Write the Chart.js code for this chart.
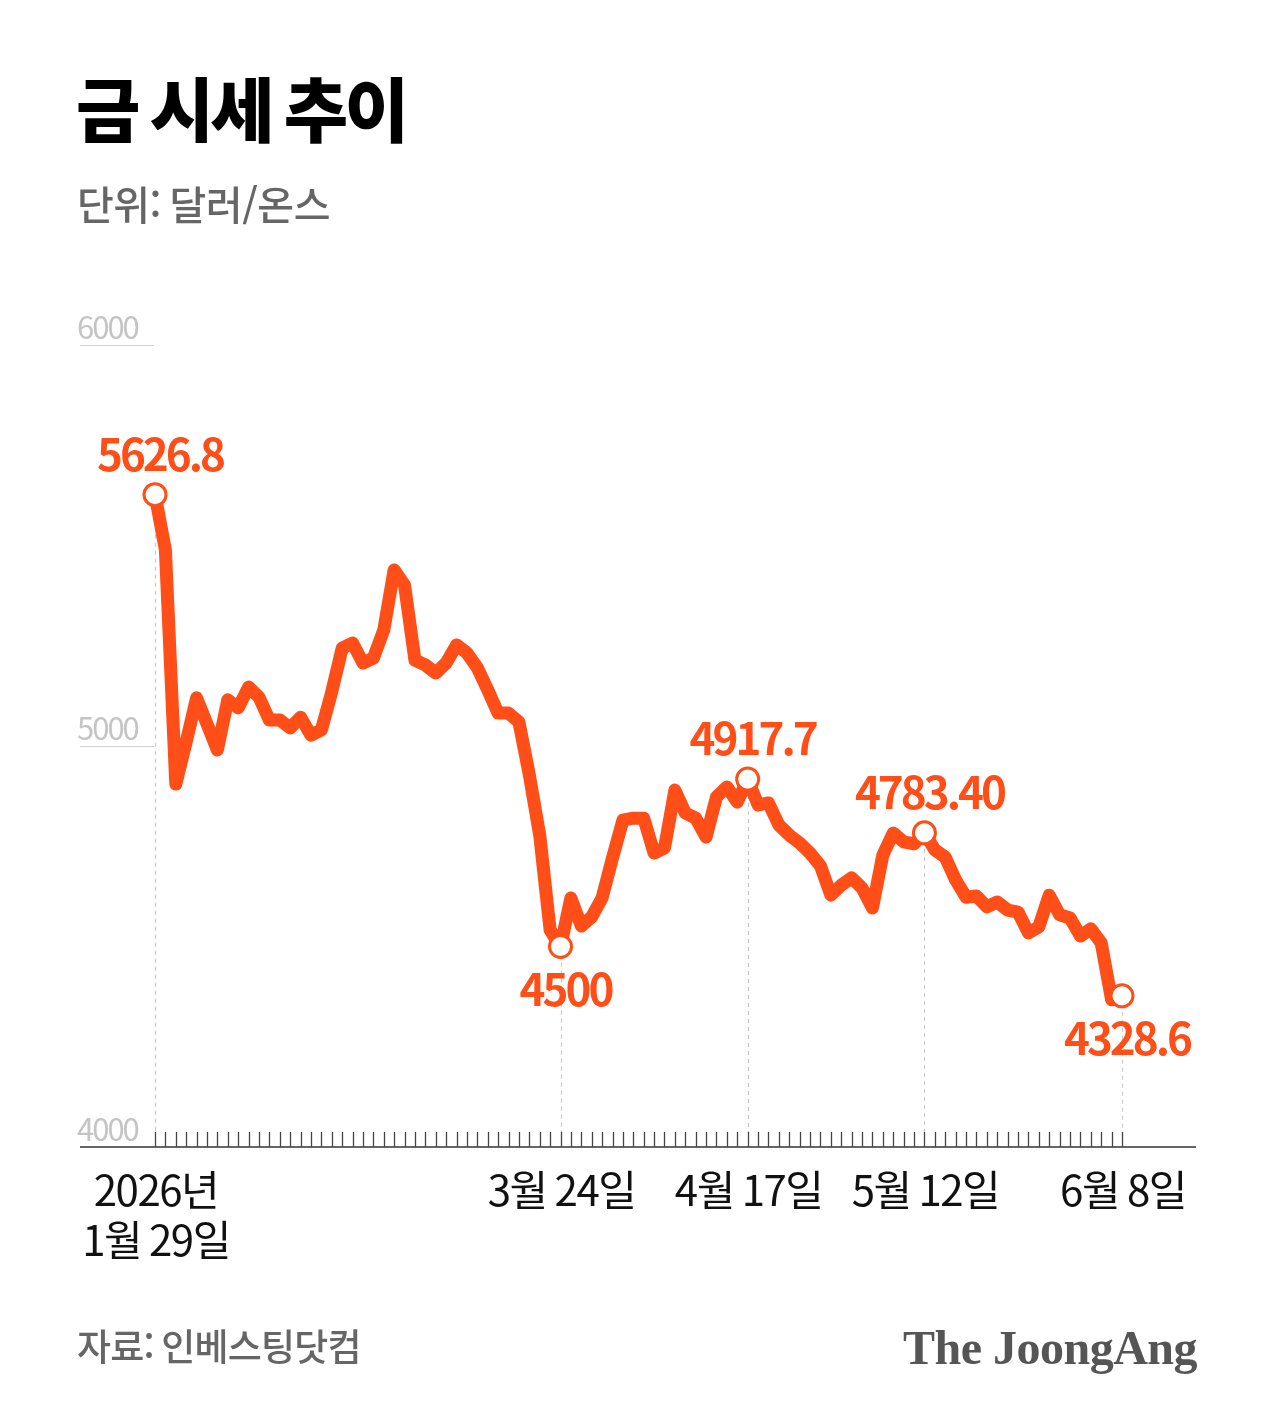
<!DOCTYPE html>
<html lang="ko">
<head>
<meta charset="utf-8">
<script src="https://cdn.jsdelivr.net/npm/chart.js@4/dist/chart.umd.min.js"></script>
<style>
  html, body { margin: 0; padding: 0; background: #ffffff; }
  #wrap { width: 1280px; height: 1419px; position: relative; }
  canvas { display: block; }
</style>
</head>
<body>
<div id="wrap"><canvas id="c" width="1280" height="1419"></canvas></div>
<script>
// ---------------- data ----------------
const titleText = '금 시세 추이';
const unitText = '단위: 달러/온스';
const sourceText = '자료: 인베스팅닷컴';
const logoText = 'The JoongAng';

// gold price (USD/oz), one value per trading day, 2026-01-29 .. 2026-06-08
const goldPrice = [
  5626.8, 5489, 4905, 5010, 5120, 5055, 4990, 5115, 5095, 5147,
  5122, 5065, 5065, 5045, 5072, 5027, 5040, 5135, 5244, 5257,
  5207, 5219, 5289, 5439, 5401, 5214, 5202, 5182, 5207, 5252,
  5232, 5195, 5140, 5082, 5082, 5060, 4928, 4778, 4541, 4500,
  4621, 4551, 4574, 4621, 4721, 4815, 4820, 4820, 4733, 4746,
  4890, 4833, 4820, 4773, 4873, 4898, 4860, 4917.7, 4853, 4858,
  4803, 4778, 4758, 4733, 4701, 4628, 4653, 4671, 4646, 4596,
  4728, 4783, 4761, 4756, 4783.4, 4741, 4723, 4666, 4623, 4626,
  4599, 4611, 4591, 4586, 4534, 4549, 4628, 4579, 4571, 4526,
  4544, 4509, 4367, 4377
];
const dayIndex = goldPrice.map((_, i) => i);

// labelled dates on the x axis
const dateTickIndex = [0, 39, 57, 74, 93];
const dateTickLabels = [['2026년', '1월 29일'], ['3월 24일'], ['4월 17일'], ['5월 12일'], ['6월 8일']];

// highlighted points
const markIndex = [0, 39, 57, 74, 93];
const markText = ['5626.8', '4500', '4917.7', '4783.40', '4328.6'];
const markSide = ['above', 'below', 'above', 'above', 'below'];

// y axis
const yTicks = [4000, 5000, 6000];
const yMin = 4000, yMax = 6000;

// ---------------- styles ----------------
const ORANGE = '#FF4E17';
const KR = '"Noto Sans CJK KR", "Noto Sans", sans-serif';

const overlay = {
  id: 'overlay',
  beforeDatasetsDraw(chart) {
    const { ctx, chartArea, scales } = chart;
    const x = scales.x, y = scales.y;
    const axisY = y.getPixelForValue(yMin);
    ctx.save();
    // short gridlines + y labels
    yTicks.forEach(v => {
      const py = y.getPixelForValue(v);
      if (v !== yMin) {
        ctx.strokeStyle = '#cfcfcf';
        ctx.lineWidth = 1;
        ctx.beginPath();
        ctx.moveTo(80, py + 0.5);
        ctx.lineTo(chartArea.left - 1, py + 0.5);
        ctx.stroke();
      }
      ctx.fillStyle = '#c4c4c4';
      ctx.font = '400 31px ' + KR;
      ctx.letterSpacing = '-2px';
      ctx.textAlign = 'left';
      ctx.textBaseline = 'alphabetic';
      ctx.fillText(String(v), 77, py - 6);
    });
    // dashed drop lines
    ctx.letterSpacing = '0px';
    ctx.strokeStyle = '#c8c8c8';
    ctx.lineWidth = 1.2;
    ctx.setLineDash([4, 4]);
    markIndex.forEach(i => {
      const px = Math.round(x.getPixelForValue(i)) + 0.5;
      const py = y.getPixelForValue(goldPrice[i]);
      ctx.beginPath();
      ctx.moveTo(px, py);
      ctx.lineTo(px, axisY - 14);
      ctx.stroke();
    });
    ctx.setLineDash([]);
    // axis line
    ctx.strokeStyle = '#333333';
    ctx.lineWidth = 1.5;
    ctx.beginPath();
    ctx.moveTo(80, axisY);
    ctx.lineTo(1196, axisY);
    ctx.stroke();
    // tick marks for every trading day
    ctx.strokeStyle = '#444444';
    ctx.lineWidth = 1.3;
    dayIndex.forEach(i => {
      const px = Math.round(x.getPixelForValue(i)) + 0.5;
      ctx.beginPath();
      ctx.moveTo(px, axisY - 15);
      ctx.lineTo(px, axisY);
      ctx.stroke();
    });
    ctx.restore();
  },
  afterDatasetsDraw(chart) {
    const { ctx, scales } = chart;
    const x = scales.x, y = scales.y;
    const axisY = y.getPixelForValue(yMin);
    ctx.save();
    // point annotations
    ctx.fillStyle = ORANGE;
    ctx.font = '700 44px ' + KR;
    ctx.letterSpacing = '-3px';
    ctx.textAlign = 'center';
    ctx.textBaseline = 'alphabetic';
    markIndex.forEach((i, k) => {
      const px = x.getPixelForValue(i);
      const py = y.getPixelForValue(goldPrice[i]);
      const ty = markSide[k] === 'above' ? py - 24 : py + 59;
      ctx.fillText(markText[k], px + 5, ty);
    });
    // x date labels
    ctx.fillStyle = '#111111';
    ctx.font = '400 42px ' + KR;
    ctx.letterSpacing = '-1.5px';
    dateTickIndex.forEach((i, k) => {
      const px = x.getPixelForValue(i);
      dateTickLabels[k].forEach((line, j) => {
        ctx.fillText(line, px + 1, axisY + 59 + j * 50);
      });
    });
    // title
    ctx.textAlign = 'left';
    ctx.fillStyle = '#000000';
    ctx.font = '900 70px ' + KR;
    ctx.letterSpacing = '-3.5px';
    ctx.textBaseline = 'middle';
    ctx.fillText(titleText, 76, 110);
    // unit
    ctx.fillStyle = '#666666';
    ctx.font = '500 40px ' + KR;
    ctx.letterSpacing = '-0.5px';
    ctx.fillText(unitText, 77, 205);
    // source
    ctx.font = '500 37px ' + KR;
    ctx.letterSpacing = '-0.8px';
    ctx.fillText(sourceText, 77, 1347);
    // logo
    ctx.fillStyle = '#555555';
    ctx.font = '700 48px "Liberation Serif", "DejaVu Serif", serif';
    ctx.letterSpacing = '-0.5px';
    ctx.textAlign = 'right';
    ctx.textBaseline = 'alphabetic';
    ctx.fillText(logoText, 1197, 1364);
    ctx.restore();
  }
};

const radii = dayIndex.map(i => markIndex.includes(i) ? 11 : 0);

new Chart(document.getElementById('c'), {
  type: 'line',
  data: {
    labels: dayIndex,
    datasets: [{
      data: goldPrice,
      borderColor: ORANGE,
      borderWidth: 13,
      borderJoinStyle: 'round',
      borderCapStyle: 'round',
      tension: 0,
      fill: false,
      pointRadius: radii,
      pointHoverRadius: radii,
      pointBackgroundColor: '#ffffff',
      pointBorderColor: ORANGE,
      pointBorderWidth: 3,
      clip: false
    }]
  },
  options: {
    responsive: false,
    animation: false,
    devicePixelRatio: 1,
    events: [],
    layout: { padding: { left: 155, right: 158, top: 345, bottom: 272 } },
    plugins: { legend: { display: false }, tooltip: { enabled: false } },
    scales: {
      x: { type: 'category', display: false, offset: false },
      y: { type: 'linear', display: false, min: yMin, max: yMax }
    }
  },
  plugins: [overlay]
});
</script>
</body>
</html>
